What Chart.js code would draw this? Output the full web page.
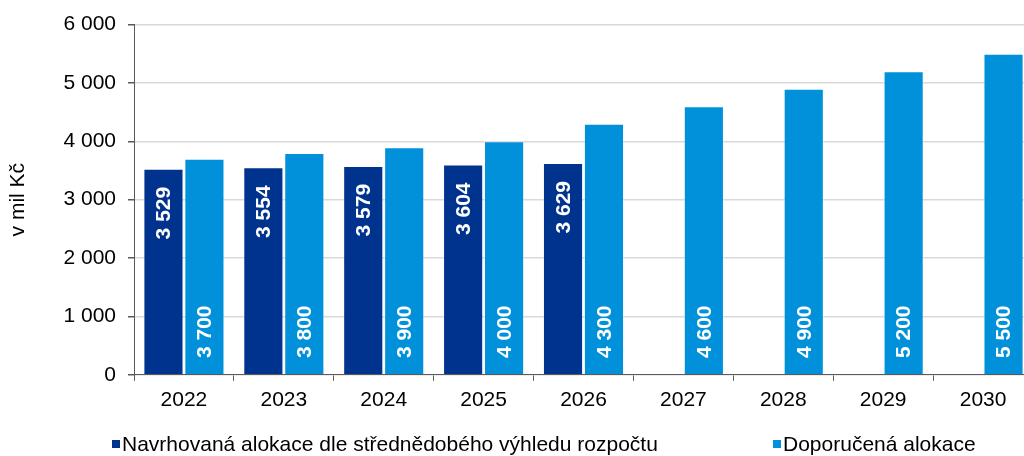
<!DOCTYPE html>
<html lang="cs">
<head>
<meta charset="utf-8">
<title>Alokace</title>
<script src="https://cdn.jsdelivr.net/npm/chart.js@4.4.1/dist/chart.umd.min.js"></script>
<style>
  html, body { margin: 0; padding: 0; background: #fff; overflow: hidden; }
  #wrap { position: relative; width: 1040px; height: 456px; }
  #legend { position: absolute; left: 0; top: 432px; width: 1024px; height: 24px;
            font: 21px "Liberation Sans", Arial, sans-serif; color: #000; }
  .item { position: absolute; top: 0; display: flex; align-items: center; white-space: nowrap; height: 24px; }
  .item i { display: inline-block; width: 8px; height: 8px; margin-right: 2px; }
</style>
</head>
<body>
<div id="wrap">
  <canvas id="chartAlokace" width="1040" height="456"></canvas>
  <div id="legend"></div>
</div>
<script>
const years = ["2022", "2023", "2024", "2025", "2026", "2027", "2028", "2029", "2030"];
const navrhovana = [3529, 3554, 3579, 3604, 3629, null, null, null, null];
const doporucena = [3700, 3800, 3900, 4000, 4300, 4600, 4900, 5200, 5500];
const yTicks = [0, 1000, 2000, 3000, 4000, 5000, 6000];

const seriesNames = ["Navrhovaná alokace dle střednědobého výhledu rozpočtu", "Doporučená alokace"];
const seriesColors = ["#00338D", "#0091DA"];
// where the value sits inside each bar: dark bars near the top, light bars near the base
const labelAnchor = ["end", "start"];

const FONT = '"Liberation Sans", Arial, sans-serif';
const AXIS = "#595959";

// "3 529", "6 000"
function fmt(v) {
    return String(v).replace(/\B(?=(\d{3})+(?!\d))/g, " ");
}

const barLabels = {
    id: "barLabels",
    afterDatasetsDraw(chart) {
        const ctx = chart.ctx;
        ctx.save();
        ctx.fillStyle = "#fff";
        ctx.font = "bold 21px " + FONT;
        ctx.textBaseline = "middle";
        chart.data.datasets.forEach((ds, di) => {
            chart.getDatasetMeta(di).data.forEach((bar, i) => {
                const v = ds.data[i];
                if (v == null) return;
                ctx.save();
                if (labelAnchor[di] === "end") {
                    ctx.translate(bar.x, bar.y + 18);
                    ctx.rotate(-Math.PI / 2);
                    ctx.textAlign = "right";
                } else {
                    ctx.translate(bar.x, bar.base - 16);
                    ctx.rotate(-Math.PI / 2);
                    ctx.textAlign = "left";
                }
                ctx.fillText(fmt(v), 0, 1);
                ctx.restore();
            });
        });
        ctx.restore();
    }
};

const ctx = document.getElementById("chartAlokace").getContext("2d");

new Chart(ctx, {
    type: "bar",
    data: {
        labels: years,
        datasets: [{
            label: seriesNames[0],
            data: navrhovana,
            backgroundColor: seriesColors[0],
            borderColor: "rgba(255,255,255,0.3)",
            borderWidth: 1,
            categoryPercentage: 0.82,
            barPercentage: 0.98
        }, {
            label: seriesNames[1],
            data: doporucena,
            backgroundColor: seriesColors[1],
            borderColor: "rgba(255,255,255,0.3)",
            borderWidth: 1,
            categoryPercentage: 0.82,
            barPercentage: 0.98
        }]
    },
    options: {
        responsive: false,
        animation: false,
        layout: { padding: { top: 10, right: 7, bottom: 36, left: 0 } },
        scales: {
            x: {
                grid: { offset: true, drawOnChartArea: false, drawTicks: true, tickLength: 6, tickColor: AXIS },
                border: { color: AXIS, width: 1 },
                ticks: { color: "#000", font: { family: FONT, size: 21 }, padding: 7 }
            },
            y: {
                min: 0,
                max: 6000,
                afterBuildTicks: scale => { scale.ticks = yTicks.map(v => ({ value: v })); },
                afterFit: scale => { scale.width = 134; },
                grid: { color: "#d9d9d9", lineWidth: 1.5, tickLength: 6, tickColor: AXIS },
                border: { color: AXIS, width: 1 },
                ticks: {
                    color: "#000",
                    font: { family: FONT, size: 21 },
                    padding: 12,
                    callback: v => fmt(v)
                },
                title: {
                    display: true,
                    text: "v mil Kč",
                    color: "#000",
                    font: { family: FONT, size: 21 },
                    padding: { top: 6, bottom: 0 }
                }
            }
        },
        plugins: {
            legend: { display: false },
            tooltip: { enabled: false }
        }
    },
    plugins: [barLabels]
});

// legend under the chart
const legendPos = [112, 773];
const legend = document.getElementById("legend");
seriesNames.forEach((name, i) => {
    const item = document.createElement("div");
    item.className = "item";
    item.style.left = legendPos[i] + "px";
    item.innerHTML = '<i style="background:' + seriesColors[i] + '"></i><span>' + name + "</span>";
    legend.appendChild(item);
});
</script>
</body>
</html>
